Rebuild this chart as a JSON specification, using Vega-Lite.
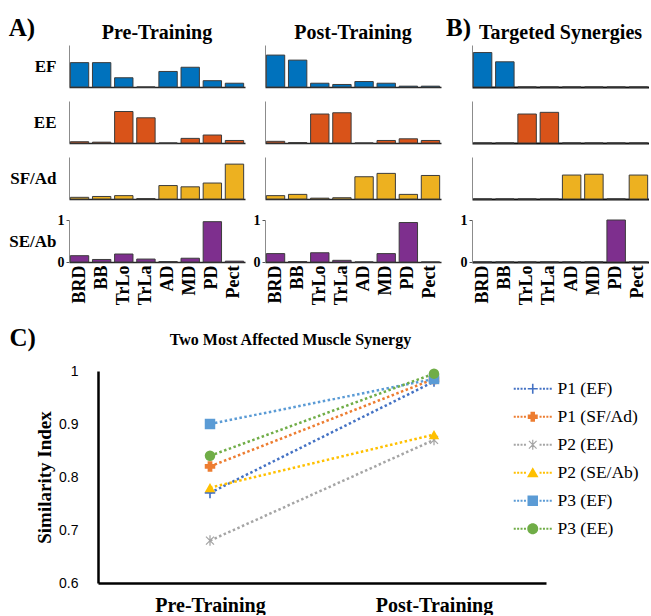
{
"$schema":"https://vega.github.io/schema/vega-lite/v6.json",
"padding":{"top":16,"left":8,"right":0,"bottom":0},
"background":"white",
"config":{
 "view":{"stroke":null},
 "font":"Liberation Serif",
 "title":{"font":"Liberation Serif","fontWeight":"bold","color":"black","baseline":"bottom","fontSize":20,"offset":2},
 "axis":{"grid":false,"labelFont":"Liberation Serif","labelFontWeight":"bold","labelColor":"black","titleFont":"Liberation Serif","titleFontWeight":"bold","titleColor":"black"},
 "axisBand":{"ticks":false,"domainColor":"#262626","domainWidth":1.5,"labelAngle":-90,"labelFontSize":18,"labelPadding":3},
 "axisQuantitative":{"domainColor":"#8c8c8c","domainWidth":1,"ticks":false,"labels":false,"tickSize":3,"tickColor":"#555","labelFontSize":14,"labelPadding":2}
},
"datasets":{
 "bars":[
{"c":"Pre","s":"EF","m":"BRD","v":0.58},{"c":"Pre","s":"EF","m":"BB","v":0.58},{"c":"Pre","s":"EF","m":"TrLo","v":0.22},{"c":"Pre","s":"EF","m":"TrLa","v":0},{"c":"Pre","s":"EF","m":"AD","v":0.37},{"c":"Pre","s":"EF","m":"MD","v":0.47},{"c":"Pre","s":"EF","m":"PD","v":0.15},{"c":"Pre","s":"EF","m":"Pect","v":0.09},
{"c":"Pre","s":"EE","m":"BRD","v":0.03},{"c":"Pre","s":"EE","m":"BB","v":0.02},{"c":"Pre","s":"EE","m":"TrLo","v":0.75},{"c":"Pre","s":"EE","m":"TrLa","v":0.6},{"c":"Pre","s":"EE","m":"AD","v":0},{"c":"Pre","s":"EE","m":"MD","v":0.11},{"c":"Pre","s":"EE","m":"PD","v":0.19},{"c":"Pre","s":"EE","m":"Pect","v":0.06},
{"c":"Pre","s":"SF/Ad","m":"BRD","v":0.04},{"c":"Pre","s":"SF/Ad","m":"BB","v":0.06},{"c":"Pre","s":"SF/Ad","m":"TrLo","v":0.08},{"c":"Pre","s":"SF/Ad","m":"TrLa","v":0.01},{"c":"Pre","s":"SF/Ad","m":"AD","v":0.32},{"c":"Pre","s":"SF/Ad","m":"MD","v":0.29},{"c":"Pre","s":"SF/Ad","m":"PD","v":0.38},{"c":"Pre","s":"SF/Ad","m":"Pect","v":0.83},
{"c":"Pre","s":"SE/Ab","m":"BRD","v":0.15},{"c":"Pre","s":"SE/Ab","m":"BB","v":0.06},{"c":"Pre","s":"SE/Ab","m":"TrLo","v":0.19},{"c":"Pre","s":"SE/Ab","m":"TrLa","v":0.07},{"c":"Pre","s":"SE/Ab","m":"AD","v":0.01},{"c":"Pre","s":"SE/Ab","m":"MD","v":0.09},{"c":"Pre","s":"SE/Ab","m":"PD","v":0.96},{"c":"Pre","s":"SE/Ab","m":"Pect","v":0.02},
{"c":"Post","s":"EF","m":"BRD","v":0.76},{"c":"Post","s":"EF","m":"BB","v":0.64},{"c":"Post","s":"EF","m":"TrLo","v":0.09},{"c":"Post","s":"EF","m":"TrLa","v":0.06},{"c":"Post","s":"EF","m":"AD","v":0.13},{"c":"Post","s":"EF","m":"MD","v":0.09},{"c":"Post","s":"EF","m":"PD","v":0.02},{"c":"Post","s":"EF","m":"Pect","v":0.02},
{"c":"Post","s":"EE","m":"BRD","v":0.04},{"c":"Post","s":"EE","m":"BB","v":0.01},{"c":"Post","s":"EE","m":"TrLo","v":0.69},{"c":"Post","s":"EE","m":"TrLa","v":0.72},{"c":"Post","s":"EE","m":"AD","v":0},{"c":"Post","s":"EE","m":"MD","v":0.06},{"c":"Post","s":"EE","m":"PD","v":0.1},{"c":"Post","s":"EE","m":"Pect","v":0.06},
{"c":"Post","s":"SF/Ad","m":"BRD","v":0.08},{"c":"Post","s":"SF/Ad","m":"BB","v":0.11},{"c":"Post","s":"SF/Ad","m":"TrLo","v":0.02},{"c":"Post","s":"SF/Ad","m":"TrLa","v":0.03},{"c":"Post","s":"SF/Ad","m":"AD","v":0.53},{"c":"Post","s":"SF/Ad","m":"MD","v":0.61},{"c":"Post","s":"SF/Ad","m":"PD","v":0.11},{"c":"Post","s":"SF/Ad","m":"Pect","v":0.56},
{"c":"Post","s":"SE/Ab","m":"BRD","v":0.2},{"c":"Post","s":"SE/Ab","m":"BB","v":0.01},{"c":"Post","s":"SE/Ab","m":"TrLo","v":0.22},{"c":"Post","s":"SE/Ab","m":"TrLa","v":0.04},{"c":"Post","s":"SE/Ab","m":"AD","v":0},{"c":"Post","s":"SE/Ab","m":"MD","v":0.2},{"c":"Post","s":"SE/Ab","m":"PD","v":0.94},{"c":"Post","s":"SE/Ab","m":"Pect","v":0},
{"c":"Tgt","s":"EF","m":"BRD","v":0.82},{"c":"Tgt","s":"EF","m":"BB","v":0.6},{"c":"Tgt","s":"EF","m":"TrLo","v":0},{"c":"Tgt","s":"EF","m":"TrLa","v":0},{"c":"Tgt","s":"EF","m":"AD","v":0},{"c":"Tgt","s":"EF","m":"MD","v":0},{"c":"Tgt","s":"EF","m":"PD","v":0},{"c":"Tgt","s":"EF","m":"Pect","v":0},
{"c":"Tgt","s":"EE","m":"BRD","v":0},{"c":"Tgt","s":"EE","m":"BB","v":0},{"c":"Tgt","s":"EE","m":"TrLo","v":0.69},{"c":"Tgt","s":"EE","m":"TrLa","v":0.73},{"c":"Tgt","s":"EE","m":"AD","v":0},{"c":"Tgt","s":"EE","m":"MD","v":0},{"c":"Tgt","s":"EE","m":"PD","v":0},{"c":"Tgt","s":"EE","m":"Pect","v":0},
{"c":"Tgt","s":"SF/Ad","m":"BRD","v":0},{"c":"Tgt","s":"SF/Ad","m":"BB","v":0},{"c":"Tgt","s":"SF/Ad","m":"TrLo","v":0},{"c":"Tgt","s":"SF/Ad","m":"TrLa","v":0},{"c":"Tgt","s":"SF/Ad","m":"AD","v":0.57},{"c":"Tgt","s":"SF/Ad","m":"MD","v":0.59},{"c":"Tgt","s":"SF/Ad","m":"PD","v":0},{"c":"Tgt","s":"SF/Ad","m":"Pect","v":0.57},
{"c":"Tgt","s":"SE/Ab","m":"BRD","v":0},{"c":"Tgt","s":"SE/Ab","m":"BB","v":0},{"c":"Tgt","s":"SE/Ab","m":"TrLo","v":0},{"c":"Tgt","s":"SE/Ab","m":"TrLa","v":0},{"c":"Tgt","s":"SE/Ab","m":"AD","v":0},{"c":"Tgt","s":"SE/Ab","m":"MD","v":0},{"c":"Tgt","s":"SE/Ab","m":"PD","v":1},{"c":"Tgt","s":"SE/Ab","m":"Pect","v":0}
 ],
 "sim":[
{"series":"P1 (EF)","phase":"Pre-Training","v":0.77},{"series":"P1 (EF)","phase":"Post-Training","v":0.98},
{"series":"P1 (SF/Ad)","phase":"Pre-Training","v":0.82},{"series":"P1 (SF/Ad)","phase":"Post-Training","v":0.985},
{"series":"P2 (EE)","phase":"Pre-Training","v":0.68},{"series":"P2 (EE)","phase":"Post-Training","v":0.87},
{"series":"P2 (SE/Ab)","phase":"Pre-Training","v":0.78},{"series":"P2 (SE/Ab)","phase":"Post-Training","v":0.88},
{"series":"P3 (EF)","phase":"Pre-Training","v":0.9},{"series":"P3 (EF)","phase":"Post-Training","v":0.985},
{"series":"P3 (EE)","phase":"Pre-Training","v":0.84},{"series":"P3 (EE)","phase":"Post-Training","v":0.995}
 ]
},
"columns":1,
"align":"none",
"spacing":21,
"resolve":{"scale":{"color":"independent","shape":"independent"}},
"concat":[
 {"data":{"name":"bars"},"spacing":5,"hconcat":[
  {"title":{"text":"A)","anchor":"start","fontSize":25,"offset":-18},"spacing":8,"hconcat":[
   {"spacing":13,"vconcat":[
    {"width":176,"height":42,"title":"Pre-Training","transform":[{"filter":"datum.c==='Pre'&&datum.s==='EF'"}],"mark":{"type":"bar","fill":"#0072BD","stroke":"#3c3c3c","strokeWidth":1},
     "encoding":{"x":{"field":"m","type":"nominal","sort":null,"scale":{"domain":["BRD","BB","TrLo","TrLa","AD","MD","PD","Pect"],"paddingInner":0.17,"paddingOuter":0.06},"axis":{"labels":false,"title":null}},
      "y":{"field":"v","type":"quantitative","scale":{"domain":[0,1]},"axis":{"title":"EF","titleAngle":0,"titleAlign":"right","titleBaseline":"middle","titleX":-13,"titleY":21,"titleFontSize":17}}}},
    {"width":176,"height":42,"transform":[{"filter":"datum.c==='Pre'&&datum.s==='EE'"}],"mark":{"type":"bar","fill":"#D95319","stroke":"#3c3c3c","strokeWidth":1},
     "encoding":{"x":{"field":"m","type":"nominal","sort":null,"scale":{"domain":["BRD","BB","TrLo","TrLa","AD","MD","PD","Pect"],"paddingInner":0.17,"paddingOuter":0.06},"axis":{"labels":false,"title":null}},
      "y":{"field":"v","type":"quantitative","scale":{"domain":[0,1]},"axis":{"title":"EE","titleAngle":0,"titleAlign":"right","titleBaseline":"middle","titleX":-13,"titleY":21,"titleFontSize":17}}}},
    {"width":176,"height":42,"transform":[{"filter":"datum.c==='Pre'&&datum.s==='SF/Ad'"}],"mark":{"type":"bar","fill":"#EDB120","stroke":"#3c3c3c","strokeWidth":1},
     "encoding":{"x":{"field":"m","type":"nominal","sort":null,"scale":{"domain":["BRD","BB","TrLo","TrLa","AD","MD","PD","Pect"],"paddingInner":0.17,"paddingOuter":0.06},"axis":{"labels":false,"title":null}},
      "y":{"field":"v","type":"quantitative","scale":{"domain":[0,1]},"axis":{"title":"SF/Ad","titleAngle":0,"titleAlign":"right","titleBaseline":"middle","titleX":-13,"titleY":21,"titleFontSize":17}}}},
    {"width":176,"height":42,"transform":[{"filter":"datum.c==='Pre'&&datum.s==='SE/Ab'"}],"mark":{"type":"bar","fill":"#7E2F8E","stroke":"#3c3c3c","strokeWidth":1},
     "encoding":{"x":{"field":"m","type":"nominal","sort":null,"scale":{"domain":["BRD","BB","TrLo","TrLa","AD","MD","PD","Pect"],"paddingInner":0.17,"paddingOuter":0.06},"axis":{"title":null}},
      "y":{"field":"v","type":"quantitative","scale":{"domain":[0,1]},"axis":{"labels":true,"ticks":true,"values":[0,1],"format":"d","title":"SE/Ab","titleAngle":0,"titleAlign":"right","titleBaseline":"middle","titleX":-13,"titleY":21,"titleFontSize":17}}}}
   ]},
   {"spacing":13,"vconcat":[
    {"width":176,"height":42,"title":"Post-Training","transform":[{"filter":"datum.c==='Post'&&datum.s==='EF'"}],"mark":{"type":"bar","fill":"#0072BD","stroke":"#3c3c3c","strokeWidth":1},
     "encoding":{"x":{"field":"m","type":"nominal","sort":null,"scale":{"domain":["BRD","BB","TrLo","TrLa","AD","MD","PD","Pect"],"paddingInner":0.17,"paddingOuter":0.06},"axis":{"labels":false,"title":null}},
      "y":{"field":"v","type":"quantitative","scale":{"domain":[0,1]},"axis":{"title":null}}}},
    {"width":176,"height":42,"transform":[{"filter":"datum.c==='Post'&&datum.s==='EE'"}],"mark":{"type":"bar","fill":"#D95319","stroke":"#3c3c3c","strokeWidth":1},
     "encoding":{"x":{"field":"m","type":"nominal","sort":null,"scale":{"domain":["BRD","BB","TrLo","TrLa","AD","MD","PD","Pect"],"paddingInner":0.17,"paddingOuter":0.06},"axis":{"labels":false,"title":null}},
      "y":{"field":"v","type":"quantitative","scale":{"domain":[0,1]},"axis":{"title":null}}}},
    {"width":176,"height":42,"transform":[{"filter":"datum.c==='Post'&&datum.s==='SF/Ad'"}],"mark":{"type":"bar","fill":"#EDB120","stroke":"#3c3c3c","strokeWidth":1},
     "encoding":{"x":{"field":"m","type":"nominal","sort":null,"scale":{"domain":["BRD","BB","TrLo","TrLa","AD","MD","PD","Pect"],"paddingInner":0.17,"paddingOuter":0.06},"axis":{"labels":false,"title":null}},
      "y":{"field":"v","type":"quantitative","scale":{"domain":[0,1]},"axis":{"title":null}}}},
    {"width":176,"height":42,"transform":[{"filter":"datum.c==='Post'&&datum.s==='SE/Ab'"}],"mark":{"type":"bar","fill":"#7E2F8E","stroke":"#3c3c3c","strokeWidth":1},
     "encoding":{"x":{"field":"m","type":"nominal","sort":null,"scale":{"domain":["BRD","BB","TrLo","TrLa","AD","MD","PD","Pect"],"paddingInner":0.17,"paddingOuter":0.06},"axis":{"title":null}},
      "y":{"field":"v","type":"quantitative","scale":{"domain":[0,1]},"axis":{"labels":true,"ticks":true,"values":[0,1],"format":"d","title":null}}}}
   ]}
  ]},
  {"title":{"text":"B)","anchor":"start","fontSize":25,"offset":-18,"dx":-14},"spacing":13,"vconcat":[
    {"width":177,"height":42,"title":"Targeted Synergies","transform":[{"filter":"datum.c==='Tgt'&&datum.s==='EF'"}],"mark":{"type":"bar","fill":"#0072BD","stroke":"#3c3c3c","strokeWidth":1},
     "encoding":{"x":{"field":"m","type":"nominal","sort":null,"scale":{"domain":["BRD","BB","TrLo","TrLa","AD","MD","PD","Pect"],"paddingInner":0.17,"paddingOuter":0.06},"axis":{"labels":false,"title":null,"domainColor":"#111","domainWidth":2}},
      "y":{"field":"v","type":"quantitative","scale":{"domain":[0,1]},"axis":{"title":null}}}},
    {"width":177,"height":42,"transform":[{"filter":"datum.c==='Tgt'&&datum.s==='EE'"}],"mark":{"type":"bar","fill":"#D95319","stroke":"#3c3c3c","strokeWidth":1},
     "encoding":{"x":{"field":"m","type":"nominal","sort":null,"scale":{"domain":["BRD","BB","TrLo","TrLa","AD","MD","PD","Pect"],"paddingInner":0.17,"paddingOuter":0.06},"axis":{"labels":false,"title":null,"domainColor":"#111","domainWidth":2}},
      "y":{"field":"v","type":"quantitative","scale":{"domain":[0,1]},"axis":{"title":null}}}},
    {"width":177,"height":42,"transform":[{"filter":"datum.c==='Tgt'&&datum.s==='SF/Ad'"}],"mark":{"type":"bar","fill":"#EDB120","stroke":"#3c3c3c","strokeWidth":1},
     "encoding":{"x":{"field":"m","type":"nominal","sort":null,"scale":{"domain":["BRD","BB","TrLo","TrLa","AD","MD","PD","Pect"],"paddingInner":0.17,"paddingOuter":0.06},"axis":{"labels":false,"title":null,"domainColor":"#111","domainWidth":2}},
      "y":{"field":"v","type":"quantitative","scale":{"domain":[0,1]},"axis":{"title":null}}}},
    {"width":177,"height":42,"transform":[{"filter":"datum.c==='Tgt'&&datum.s==='SE/Ab'"}],"mark":{"type":"bar","fill":"#7E2F8E","stroke":"#3c3c3c","strokeWidth":1},
     "encoding":{"x":{"field":"m","type":"nominal","sort":null,"scale":{"domain":["BRD","BB","TrLo","TrLa","AD","MD","PD","Pect"],"paddingInner":0.17,"paddingOuter":0.06},"axis":{"title":null,"domainColor":"#111","domainWidth":2}},
      "y":{"field":"v","type":"quantitative","scale":{"domain":[0,1]},"axis":{"labels":true,"ticks":true,"values":[0,1],"format":"d","title":null}}}}
  ]}
 ]},
 {"title":{"text":"C)","anchor":"start","fontSize":25,"offset":-19,"dx":-26},
  "resolve":{"scale":{"color":"independent","shape":"independent"}},
  "vconcat":[
  {"width":477,"height":212,"data":{"name":"sim"},
   "title":{"text":"Two Most Affected Muscle Synergy","fontSize":16,"dx":-17,"offset":16},
   "encoding":{
    "x":{"field":"phase","type":"nominal","sort":null,"scale":{"type":"point","domain":["Pre-Training","Post-Training"],"padding":0.5,"range":[29,477]},"axis":{"title":null,"labelAngle":0,"labelFontSize":20,"labelPadding":12,"ticks":false,"domainColor":"black","domainWidth":2.5}},
    "y":{"field":"v","type":"quantitative","scale":{"domain":[0.6,1],"nice":false,"zero":false},"axis":{"title":"Similarity Index","offset":-29,"labels":true,"ticks":false,"domainColor":"black","domainWidth":2.5,"values":[0.6,0.7,0.8,0.9,1],"format":".1~f","labelFont":"Liberation Sans","labelFontWeight":"normal","labelFontSize":14,"labelPadding":20,"titleFontSize":19,"titlePadding":4}}
   },
   "layer":[
    {"mark":{"type":"point","filled":true,"size":100,"opacity":0},
     "encoding":{
      "shape":{"field":"series","type":"nominal","scale":{"domain":["P1 (EF)","P1 (SF/Ad)","P2 (EE)","P2 (SE/Ab)","P3 (EF)","P3 (EE)"],"range":[
        "M-1,-0.16H1V0.16H-1ZM-0.16,-1H0.16V1H-0.16ZM-3.8,-0.2h0.4v0.4h-0.4ZM-3.12,-0.2h0.4v0.4h-0.4ZM-2.44,-0.2h0.4v0.4h-0.4ZM-1.76,-0.2h0.4v0.4h-0.4ZM1.36,-0.2h0.4v0.4h-0.4ZM2.04,-0.2h0.4v0.4h-0.4ZM2.72,-0.2h0.4v0.4h-0.4ZM3.4,-0.2h0.4v0.4h-0.4Z",
        "M-0.45,-1H0.45V-0.45H1V0.45H0.45V1H-0.45V0.45H-1V-0.45H-0.45ZM-3.8,-0.2h0.4v0.4h-0.4ZM-3.12,-0.2h0.4v0.4h-0.4ZM-2.44,-0.2h0.4v0.4h-0.4ZM-1.76,-0.2h0.4v0.4h-0.4ZM1.36,-0.2h0.4v0.4h-0.4ZM2.04,-0.2h0.4v0.4h-0.4ZM2.72,-0.2h0.4v0.4h-0.4ZM3.4,-0.2h0.4v0.4h-0.4Z",
        "M-0.12,-1H0.12V1H-0.12ZM-0.85,-0.68L-0.68,-0.85L0.85,0.68L0.68,0.85ZM-0.85,0.68L0.68,-0.85L0.85,-0.68L-0.68,0.85ZM-3.8,-0.2h0.4v0.4h-0.4ZM-3.12,-0.2h0.4v0.4h-0.4ZM-2.44,-0.2h0.4v0.4h-0.4ZM-1.76,-0.2h0.4v0.4h-0.4ZM1.36,-0.2h0.4v0.4h-0.4ZM2.04,-0.2h0.4v0.4h-0.4ZM2.72,-0.2h0.4v0.4h-0.4ZM3.4,-0.2h0.4v0.4h-0.4Z",
        "M0,-1.1L1.15,0.9H-1.15ZM-3.8,-0.2h0.4v0.4h-0.4ZM-3.12,-0.2h0.4v0.4h-0.4ZM-2.44,-0.2h0.4v0.4h-0.4ZM-1.76,-0.2h0.4v0.4h-0.4ZM1.36,-0.2h0.4v0.4h-0.4ZM2.04,-0.2h0.4v0.4h-0.4ZM2.72,-0.2h0.4v0.4h-0.4ZM3.4,-0.2h0.4v0.4h-0.4Z",
        "M-1.05,-1.05H1.05V1.05H-1.05ZM-3.8,-0.2h0.4v0.4h-0.4ZM-3.12,-0.2h0.4v0.4h-0.4ZM-2.44,-0.2h0.4v0.4h-0.4ZM-1.76,-0.2h0.4v0.4h-0.4ZM1.36,-0.2h0.4v0.4h-0.4ZM2.04,-0.2h0.4v0.4h-0.4ZM2.72,-0.2h0.4v0.4h-0.4ZM3.4,-0.2h0.4v0.4h-0.4Z",
        "M-1.1,0A1.1,1.1,0,1,0,1.1,0A1.1,1.1,0,1,0,-1.1,0ZM-3.8,-0.2h0.4v0.4h-0.4ZM-3.12,-0.2h0.4v0.4h-0.4ZM-2.44,-0.2h0.4v0.4h-0.4ZM-1.76,-0.2h0.4v0.4h-0.4ZM1.36,-0.2h0.4v0.4h-0.4ZM2.04,-0.2h0.4v0.4h-0.4ZM2.72,-0.2h0.4v0.4h-0.4ZM3.4,-0.2h0.4v0.4h-0.4Z"]},
       "legend":{"orient":"none","legendX":455,"legendY":9,"title":null,"symbolSize":100,"symbolOpacity":1,"symbolStrokeWidth":0,"labelFont":"Liberation Serif","labelFontWeight":"normal","labelFontSize":17.5,"labelColor":"black","labelOffset":16,"rowPadding":9,"padding":0,"labelLimit":300}},
      "color":{"field":"series","type":"nominal","scale":{"domain":["P1 (EF)","P1 (SF/Ad)","P2 (EE)","P2 (SE/Ab)","P3 (EF)","P3 (EE)"],"range":["#4472C4","#ED7D31","#A5A5A5","#FFC000","#5B9BD5","#70AD47"]},
       "legend":{"orient":"none","legendX":455,"legendY":9,"title":null,"symbolSize":100,"symbolOpacity":1,"symbolStrokeWidth":0,"labelFont":"Liberation Serif","labelFontWeight":"normal","labelFontSize":17.5,"labelColor":"black","labelOffset":16,"rowPadding":9,"padding":0,"labelLimit":300}}
     }},
    {"mark":{"type":"line","strokeDash":[2.5,2.5],"strokeWidth":2.5},
     "encoding":{"color":{"field":"series","type":"nominal"}}},
    {"transform":[{"filter":"datum.series==='P1 (EF)'"}],"mark":{"type":"point","filled":true,"size":110,"opacity":1,"shape":"M-1,-0.16H1V0.16H-1ZM-0.16,-1H0.16V1H-0.16Z"},"encoding":{"color":{"field":"series","type":"nominal"}}},
    {"transform":[{"filter":"datum.series==='P1 (SF/Ad)'"}],"mark":{"type":"point","filled":true,"size":110,"opacity":1,"shape":"M-0.45,-1H0.45V-0.45H1V0.45H0.45V1H-0.45V0.45H-1V-0.45H-0.45Z"},"encoding":{"color":{"field":"series","type":"nominal"}}},
    {"transform":[{"filter":"datum.series==='P2 (EE)'"}],"mark":{"type":"point","filled":true,"size":110,"opacity":1,"shape":"M-0.12,-1H0.12V1H-0.12ZM-0.85,-0.68L-0.68,-0.85L0.85,0.68L0.68,0.85ZM-0.85,0.68L0.68,-0.85L0.85,-0.68L-0.68,0.85Z"},"encoding":{"color":{"field":"series","type":"nominal"}}},
    {"transform":[{"filter":"datum.series==='P2 (SE/Ab)'"}],"mark":{"type":"point","filled":true,"size":110,"opacity":1,"shape":"triangle-up"},"encoding":{"color":{"field":"series","type":"nominal"}}},
    {"transform":[{"filter":"datum.series==='P3 (EF)'"}],"mark":{"type":"point","filled":true,"size":110,"opacity":1,"shape":"square"},"encoding":{"color":{"field":"series","type":"nominal"}}},
    {"transform":[{"filter":"datum.series==='P3 (EE)'"}],"mark":{"type":"point","filled":true,"size":110,"opacity":1,"shape":"circle"},"encoding":{"color":{"field":"series","type":"nominal"}}}
   ]
  }
 ]}
]
}
